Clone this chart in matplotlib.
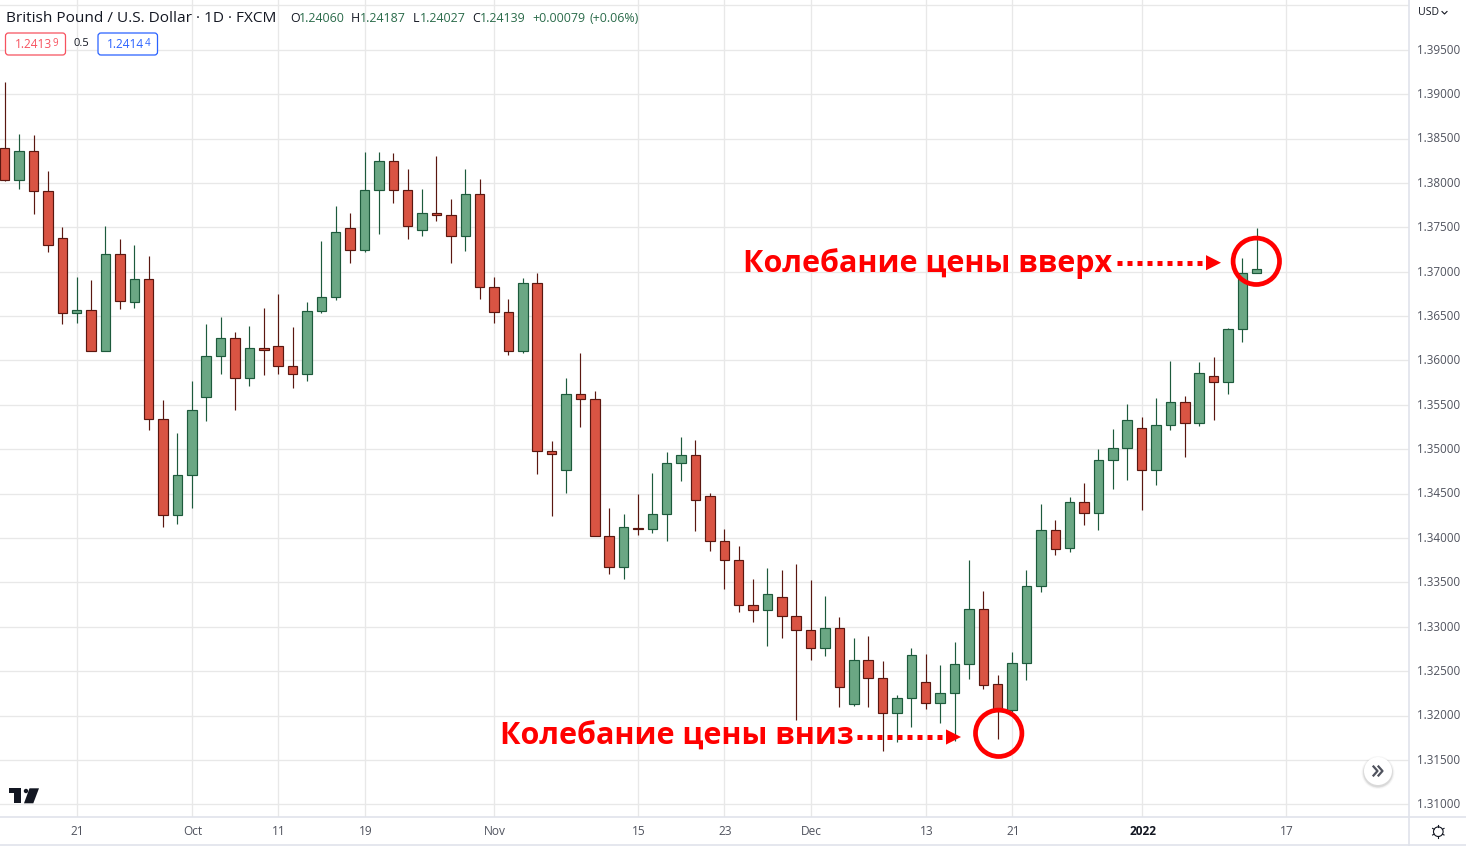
import numpy as np
import matplotlib
matplotlib.use('Agg')
import matplotlib.pyplot as plt
from matplotlib.patches import Circle, Polygon, FancyBboxPatch
from matplotlib.transforms import ScaledTranslation

# daily GBP/USD candles
opens = [1.38391, 1.38030, 1.38357, 1.37906, 1.37377, 1.36532, 1.36565, 1.36103, 1.37196, 1.36656, 1.36915,
         1.35337, 1.34256, 1.34707, 1.35585, 1.36047, 1.36250, 1.35799, 1.36137, 1.36160, 1.35934, 1.35844,
         1.36554, 1.36712, 1.37489, 1.37241, 1.37917, 1.38244, 1.37917, 1.37467, 1.37658, 1.37636, 1.37399,
         1.37872, 1.36825, 1.36543, 1.36103, 1.36870, 1.34977, 1.34763, 1.35619, 1.35563, 1.34019, 1.33670,
         1.34109, 1.34098, 1.34267, 1.34842, 1.34932, 1.34470, 1.33963, 1.33749, 1.33242, 1.33186, 1.33332,
         1.33118, 1.32960, 1.32757, 1.32983, 1.32127, 1.32622, 1.32420, 1.32025, 1.32194, 1.32374, 1.32138,
         1.32251, 1.32577, 1.33197, 1.32352, 1.32059, 1.32588, 1.33456, 1.34087, 1.33884, 1.34402, 1.34278,
         1.34876, 1.35011, 1.35236, 1.34763, 1.35270, 1.35529, 1.35292, 1.35822, 1.35754, 1.36351, 1.36982]
closes = [1.38030, 1.38357, 1.37906, 1.37298, 1.36532, 1.36565, 1.36103, 1.37196, 1.36667, 1.36915, 1.35337,
          1.34256, 1.34707, 1.35439, 1.36047, 1.36250, 1.35799, 1.36137, 1.36115, 1.35934, 1.35844, 1.36554,
          1.36712, 1.37444, 1.37241, 1.37917, 1.38244, 1.37917, 1.37512, 1.37658, 1.37636, 1.37399, 1.37872,
          1.36825, 1.36543, 1.36103, 1.36870, 1.34977, 1.34943, 1.35619, 1.35563, 1.34019, 1.33670, 1.34121,
          1.34098, 1.34267, 1.34842, 1.34932, 1.34425, 1.33963, 1.33749, 1.33242, 1.33186, 1.33366, 1.33118,
          1.32960, 1.32757, 1.32983, 1.32318, 1.32622, 1.32420, 1.32025, 1.32194, 1.32679, 1.32138, 1.32251,
          1.32577, 1.33197, 1.32341, 1.32051, 1.32588, 1.33456, 1.34087, 1.33873, 1.34402, 1.34278, 1.34876,
          1.35011, 1.35326, 1.34763, 1.35270, 1.35529, 1.35292, 1.35856, 1.35754, 1.36351, 1.36982, 1.37027]
highs = [1.39137, 1.38552, 1.38540, 1.38135, 1.37504, 1.36941, 1.36907, 1.37515, 1.37369, 1.37301, 1.37177,
         1.35555, 1.35183, 1.35769, 1.36411, 1.36490, 1.36321, 1.36388, 1.36591, 1.36749, 1.36377, 1.36659,
         1.37346, 1.37740, 1.37662, 1.38349, 1.38349, 1.38337, 1.38157, 1.37932, 1.38304, 1.37819, 1.38157,
         1.38045, 1.36941, 1.36693, 1.36929, 1.36986, 1.35093, 1.35803, 1.36084, 1.35656, 1.34338, 1.34271,
         1.34496, 1.34732, 1.34969, 1.35138, 1.35104, 1.34507, 1.34102, 1.33910, 1.33538, 1.33662, 1.33640,
         1.33707, 1.33527, 1.33347, 1.33110, 1.32874, 1.32896, 1.32614, 1.32231, 1.32761, 1.32693, 1.32569,
         1.32828, 1.33752, 1.33403, 1.32457, 1.32716, 1.33640, 1.34383, 1.34203, 1.34462, 1.34620, 1.35003,
         1.35228, 1.35510, 1.35363, 1.35577, 1.35994, 1.35600, 1.35983, 1.36039, 1.36366, 1.37155, 1.37493]
lows = [1.38022, 1.37935, 1.37654, 1.37226, 1.36414, 1.36426, 1.36103, 1.36103, 1.36583, 1.36595, 1.35220,
        1.34127, 1.34161, 1.34341, 1.35322, 1.35851, 1.35446, 1.35716, 1.35840, 1.35851, 1.35693, 1.35772,
        1.36538, 1.36681, 1.37102, 1.37226, 1.37428, 1.37778, 1.37372, 1.37406, 1.37575, 1.37102, 1.37237,
        1.36696, 1.36426, 1.36065, 1.36088, 1.34725, 1.34251, 1.34510, 1.35254, 1.34019, 1.33598, 1.33542,
        1.34037, 1.34060, 1.33970, 1.34646, 1.34082, 1.33857, 1.33429, 1.33170, 1.33057, 1.32787, 1.32877,
        1.31953, 1.32629, 1.32674, 1.32100, 1.32111, 1.32100, 1.31604, 1.31705, 1.31874, 1.32077, 1.31919,
        1.31717, 1.32415, 1.32302, 1.31739, 1.32040, 1.32404, 1.33395, 1.33812, 1.33846, 1.34150, 1.34094,
        1.34556, 1.34657, 1.34319, 1.34601, 1.35220, 1.34916, 1.35265, 1.35333, 1.35626, 1.36212, 1.36982]

time_ticks = [5, 13, 19, 25, 34, 44, 50, 56, 64, 70, 79, 89]
time_labels = ['21', 'Oct', '11', '19', 'Nov', '15', '23', 'Dec', '13', '21', '2022', '17']
price_ticks = [1.31, 1.315, 1.32, 1.325, 1.33, 1.335, 1.34, 1.345, 1.35, 1.355, 1.36, 1.365, 1.37, 1.375,
               1.38, 1.385, 1.39, 1.395, 1.40]
price_labels = ['%.5f' % p for p in price_ticks[:-1]] + ['']

plt.rcParams['font.family'] = ['Open Sans', 'DejaVu Sans']

RED, RED_DK = '#d95443', '#5a1710'
GREEN, GREEN_DK = '#6ba784', '#1d5a3c'
GRID = '#e8e8e8'
AXLINE = '#e0e3eb'
TXT = '#50535e'

W, H = 1466, 846
fig = plt.figure(figsize=(W / 100, H / 100), dpi=100)
ax = fig.add_axes([0, (H - 817.3) / H, 1408.7 / W, 817.3 / H])

x = np.arange(len(opens))
o, c, h, l = map(np.array, (opens, closes, highs, lows))
up = c >= o
# wicks first, bodies on top
ax.vlines(x[up], l[up], h[up], color=GREEN_DK, lw=0.85, zorder=3)
ax.vlines(x[~up], l[~up], h[~up], color=RED_DK, lw=0.85, zorder=3)
ax.bar(x[up], (c - o)[up], bottom=o[up], width=0.66, color=GREEN, edgecolor=GREEN_DK, lw=0.85, zorder=4)
ax.bar(x[~up], (c - o)[~up], bottom=o[~up], width=0.66, color=RED, edgecolor=RED_DK, lw=0.85, zorder=4)

ax.set_xlim(-0.33, 97.56)
ax.set_ylim(1.30854, 1.40061)
ax.set_xticks(time_ticks)
ax.set_xticklabels(time_labels, fontsize=8.6, color=TXT)
ax.get_xticklabels()[10].set_color('#131722')
ax.get_xticklabels()[10].set_fontweight('bold')
ax.yaxis.tick_right()
ax.set_yticks(price_ticks)
ax.set_yticklabels(price_labels, fontsize=8.4, color=TXT)
ax.tick_params(axis='both', length=0)
ax.tick_params(axis='y', pad=5.8)
ax.tick_params(axis='x', pad=5.2)
# price labels sit a pixel higher than their grid lines, time labels a pixel right
up_shift = ScaledTranslation(0, 1.2 / 100, fig.dpi_scale_trans)
for lab in ax.get_yticklabels():
    lab.set_transform(lab.get_transform() + up_shift)
right_shift = ScaledTranslation(1.0 / 100, 0, fig.dpi_scale_trans)
for lab in ax.get_xticklabels():
    lab.set_transform(lab.get_transform() + right_shift)
ax.grid(True, color=GRID, lw=0.95, zorder=0)
ax.set_axisbelow(True)
for s in ['left', 'top']:
    ax.spines[s].set_visible(False)
for s in ['right', 'bottom']:
    ax.spines[s].set_color(AXLINE)
    ax.spines[s].set_linewidth(1.2)

# overlay in screen pixels for the annotations and the chart furniture
ov = fig.add_axes([0, 0, 1, 1], facecolor='none')
ov.set_xlim(0, W)
ov.set_ylim(H, 0)
ov.axis('off')

ov.plot([0, W], [845.3, 845.3], color=AXLINE, lw=1.2)
ov.plot([1408.7, 1408.7], [817, 846], color=AXLINE, lw=1.2)
ov.plot([1408.7, W], [817.3, 817.3], color=AXLINE, lw=1.2)

# header
ov.text(6, 18.5, 'British Pound / U.S. Dollar · 1D · FXCM', fontsize=11.1, color='#131722', va='center')
for xp, s, col in [(290, 'O', '#131722'), (299, '1.24060', '#2a6b4a'), (351, 'H', '#131722'), (360, '1.24187', '#2a6b4a'),
                   (413, 'L', '#131722'), (420, '1.24027', '#2a6b4a'), (472, 'C', '#131722'), (480, '1.24139', '#2a6b4a'),
                   (532, '+0.00079', '#2a6b4a'), (589, '(+0.06%)', '#2a6b4a')]:
    ov.text(xp, 18, s, fontsize=8.9, color=col, va='center')

for x0, x1, col, s in [(5.5, 65.5, '#f7525f', '1.24139'), (98, 157.5, '#2962ff', '1.24144')]:
    ov.add_patch(FancyBboxPatch((x0 + 3, 36), x1 - x0 - 6, 16, boxstyle='round,pad=3', fc='white', ec=col, lw=0.9))
    # last digit is drawn smaller and raised
    ov.text(x1 - 13, 45, s[:-1], fontsize=8.6, color=col, ha='right', va='center')
    ov.text(x1 - 13, 43, s[-1], fontsize=7, color=col, ha='left', va='center')
ov.text(81, 44, '0.5', fontsize=8, color='#131722', ha='center', va='center')
ov.text(1418, 12.7, 'USD', fontsize=7.6, color='#131722', va='center')
ov.plot([1442, 1444.5, 1447], [11.5, 14, 11.5], color='#131722', lw=0.8)

# red annotations
ov.text(743, 272, 'Колебание цены вверх', fontsize=22, fontweight='bold', family=['Open Sans', 'DejaVu Sans'],
        color='#ff0000', va='baseline')
ov.text(500, 745, 'Колебание цены вниз', fontsize=22, fontweight='bold', family=['Open Sans', 'DejaVu Sans'],
        color='#ff0000', va='baseline')
for cx, cy in [(1256.3, 261.3), (998.7, 733.3)]:
    ov.add_patch(Circle((cx, cy), 23.2, fc='none', ec='#ff0000', lw=3.4, zorder=6))
for x0, x1, yy in [(1116.7, 1204, 262.7), (856.7, 944, 737)]:
    ov.plot([x0, x1], [yy, yy], color='#ff0000', lw=3.6, linestyle=(0, (1, 1)), solid_capstyle='butt', zorder=6)
    ov.add_patch(Polygon([(x1 + 2, yy - 7.6), (x1 + 17, yy), (x1 + 2, yy + 7.6)], fc='#ff0000', ec='none', zorder=6))

# TradingView mark
ov.add_patch(Polygon([(9, 788.3), (21, 788.3), (21, 803.3), (14, 803.3), (14, 793.5), (9, 793.5)], fc='#131722', ec='none'))
ov.add_patch(Circle((26, 791), 2.2, fc='#131722', ec='none'))
ov.add_patch(Polygon([(29.5, 788.3), (39, 788.3), (33.3, 803.3), (24, 803.3)], fc='#131722', ec='none'))

# scroll button
for r, a in [(16.5, 0.03), (15.5, 0.05), (14.8, 0.07)]:
    ov.add_patch(Circle((1378, 772.5), r, fc='black', ec='none', alpha=a))
ov.add_patch(Circle((1378, 771), 14, fc='white', ec='none'))
for dx in [0, 5]:
    ov.plot([1373.5 + dx, 1377.5 + dx, 1373.5 + dx], [766.5, 771, 775.5], color='#50535e', lw=1.6)

# settings icon
ov.add_patch(Circle((1438.3, 831.7), 4.8, fc='none', ec='#131722', lw=0.8))
for ang in np.arange(0, 360, 60) + 30:
    ca, sa = np.cos(np.radians(ang)), np.sin(np.radians(ang))
    ov.plot([1438.3 + 4.8 * ca, 1438.3 + 6.6 * ca], [831.7 + 4.8 * sa, 831.7 + 6.6 * sa], color='#131722', lw=0.8)

fig.savefig('out.png', dpi=100)
